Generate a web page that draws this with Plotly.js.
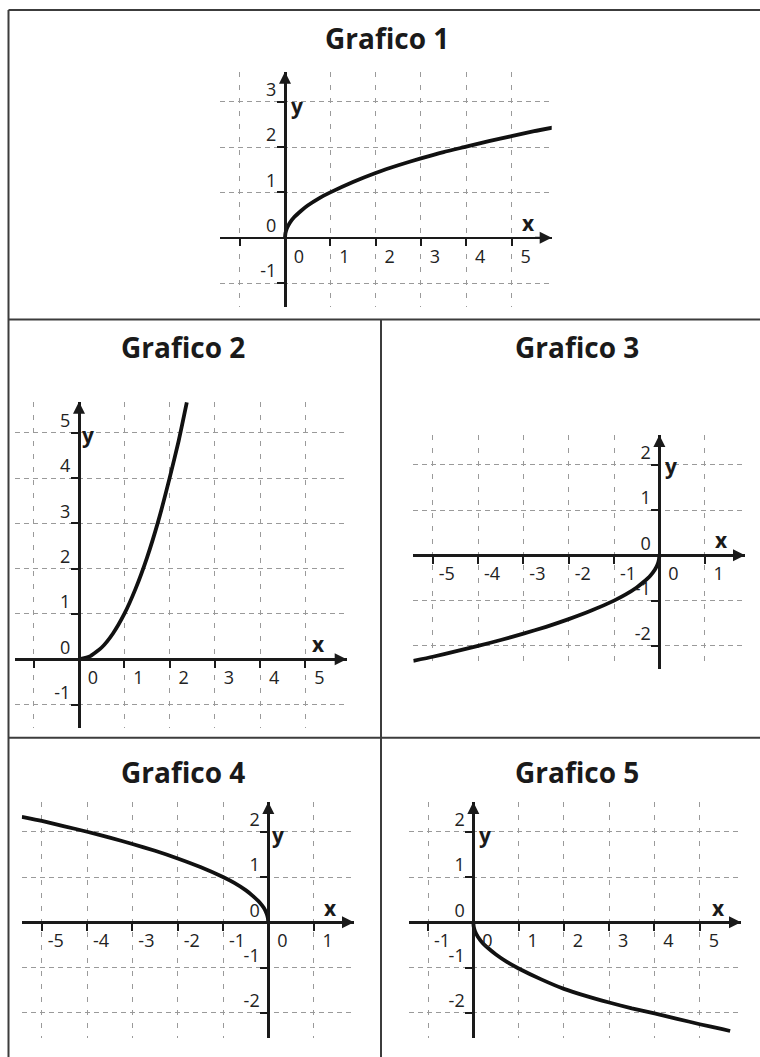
<!DOCTYPE html>
<html>
<head>
<meta charset="utf-8">
<script src="https://cdn.plot.ly/plotly-3.0.1.min.js"></script>
<style>
  html, body { margin: 0; padding: 0; background: #fff; }
  #chart { width: 760px; height: 1057px; }
</style>
</head>
<body>
<div id="chart"></div>
<script>
// punti delle curve
const x1 = [0, 0.01, 0.04, 0.1, 0.2, 0.35, 0.5, 0.75, 1, 1.5, 2, 2.5, 3, 3.5, 4, 4.5, 5, 5.5, 5.97];
const y1 = [0, 0.1, 0.2, 0.32, 0.45, 0.59, 0.71, 0.87, 1, 1.23, 1.43, 1.6, 1.75, 1.89, 2.01, 2.13, 2.24, 2.35, 2.44];

const x2 = [0, 0.25, 0.5, 0.75, 1, 1.25, 1.5, 1.75, 2, 2.2, 2.38];
const y2 = [0, 0.07, 0.26, 0.57, 1, 1.56, 2.24, 3.05, 4, 4.82, 5.67];

const x3 = [0, -0.01, -0.04, -0.1, -0.2, -0.35, -0.5, -0.75, -1, -1.5, -2, -2.5, -3, -3.5, -4, -4.5, -5, -5.43];
const y3 = [0, -0.1, -0.2, -0.32, -0.45, -0.59, -0.71, -0.87, -1, -1.22, -1.41, -1.58, -1.73, -1.87, -2, -2.12, -2.24, -2.33];

const x4 = [0, -0.01, -0.04, -0.1, -0.2, -0.35, -0.5, -0.75, -1, -1.5, -2, -2.5, -3, -3.5, -4, -4.5, -5, -5.44];
const y4 = [0, 0.1, 0.2, 0.32, 0.45, 0.59, 0.71, 0.87, 1, 1.22, 1.41, 1.58, 1.73, 1.87, 2, 2.12, 2.24, 2.33];

const x5 = [0, 0.01, 0.04, 0.1, 0.2, 0.35, 0.5, 0.75, 1, 1.5, 2, 2.5, 3, 3.5, 4, 4.5, 5, 5.5, 5.67];
const y5 = [0, -0.1, -0.2, -0.32, -0.45, -0.59, -0.71, -0.88, -1.02, -1.26, -1.47, -1.63, -1.77, -1.9, -2.01, -2.13, -2.25, -2.36, -2.4];

const titles = ['Grafico 1', 'Grafico 2', 'Grafico 3', 'Grafico 4', 'Grafico 5'];

// valori delle righe della griglia ed etichette
const gridX = [
  [-1, 0, 1, 2, 3, 4, 5],
  [-1, 0, 1, 2, 3, 4, 5],
  [-5, -4, -3, -2, -1, 0, 1],
  [-5, -4, -3, -2, -1, 0, 1],
  [-1, 0, 1, 2, 3, 4, 5]
];
const labX = [
  ['', '0', '1', '2', '3', '4', '5'],
  ['', '0', '1', '2', '3', '4', '5'],
  ['-5', '-4', '-3', '-2', '-1', '0', '1'],
  ['-5', '-4', '-3', '-2', '-1', '0', '1'],
  ['-1', '0', '1', '2', '3', '4', '5']
];
const gridY = [
  [-1, 0, 1, 2, 3],
  [-1, 0, 1, 2, 3, 4, 5],
  [-2, -1, 0, 1, 2],
  [-2, -1, 0, 1, 2],
  [-2, -1, 0, 1, 2]
];
const labY = [
  ['-1', '0', '1', '2', '3'],
  ['-1', '0', '1', '2', '3', '4', '5'],
  ['-2', '-1', '0', '1', '2'],
  ['-2', '-1', '0', '1', '2'],
  ['-2', '-1', '0', '1', '2']
];

const xs = [x1, x2, x3, x4, x5];
const ys = [y1, y2, y3, y4, y5];

const W = 760, H = 1057;
// riquadri in pixel delle aree dei grafici [sinistra, destra, alto, basso]
const boxes = [
  [220, 551.7, 71.7, 306.7],
  [15, 346.7, 401.7, 728],
  [413.3, 745, 435, 669.3],
  [21.7, 354, 802, 1038],
  [409.3, 741, 802, 1038]
];
const xRanges = [[-1.435, 5.887], [-1.413, 5.91], [-5.43, 1.89], [-5.444, 1.892], [-1.413, 5.91]];
const yRanges = [[-1.523, 3.664], [-1.517, 5.687], [-2.517, 2.656], [-2.554, 2.656], [-2.554, 2.656]];
const titlePos = [[387, 38], [183, 346.7], [576.7, 346.7], [183.3, 771.7], [576.7, 771.7]];
// posizione delle lettere x e y (in unità degli assi)
const xNamePos = [[5.38, 0.32], [5.29, 0.34], [1.38, 0.34], [1.38, 0.31], [5.41, 0.31]];
const yNamePos = [[0.27, 2.9], [0.2, 4.95], [0.26, 1.97], [0.21, 1.93], [0.25, 1.93]];

const ink = '#1a1a1a';
const traces = [];
const annotations = [];
const layout = {
  width: W, height: H,
  margin: {l: 0, r: 0, t: 0, b: 0},
  paper_bgcolor: '#fff', plot_bgcolor: 'rgba(0,0,0,0)',
  showlegend: false,
  font: {family: 'Open Sans', color: '#222'}
};

for (let i = 0; i < 5; i++) {
  const k = i === 0 ? '' : String(i + 1);
  const b = boxes[i];
  const xd = [b[0] / W, b[1] / W];
  const yd = [1 - b[3] / H, 1 - b[2] / H];
  const xr = xRanges[i], yr = yRanges[i];
  const xPos = yd[0] + (0 - yr[0]) / (yr[1] - yr[0]) * (yd[1] - yd[0]);
  const yPos = xd[0] + (0 - xr[0]) / (xr[1] - xr[0]) * (xd[1] - xd[0]);

  layout['xaxis' + k] = {
    domain: xd, range: xr, anchor: 'free', position: xPos,
    tickmode: 'array', tickvals: gridX[i], ticktext: labX[i],
    ticks: 'outside', ticklen: 7, tickwidth: 2, tickcolor: ink,
    showline: true, linewidth: 2.5, linecolor: ink,
    showgrid: true, gridcolor: '#9a9a9a', gridwidth: 1, griddash: '5px,8px',
    zeroline: false, fixedrange: true,
    tickfont: {family: 'Open Sans', size: 18, color: '#222'},
    ticklabelshift: 14, ticklabelstandoff: -5
  };
  layout['yaxis' + k] = {
    domain: yd, range: yr, anchor: 'free', position: yPos,
    tickmode: 'array', tickvals: gridY[i], ticktext: labY[i],
    ticks: 'outside', ticklen: 7, tickwidth: 2, tickcolor: ink,
    showline: true, linewidth: 2.5, linecolor: ink,
    showgrid: true, gridcolor: '#9a9a9a', gridwidth: 1, griddash: '5px,4px',
    zeroline: false, fixedrange: true,
    tickfont: {family: 'Open Sans', size: 18, color: '#222'},
    ticklabelshift: -12, ticklabelstandoff: -3
  };

  traces.push({
    x: xs[i], y: ys[i], xaxis: 'x' + k, yaxis: 'y' + k,
    type: 'scatter', mode: 'lines',
    line: {color: '#111', width: 3.8, shape: 'spline', smoothing: 0.5},
    hoverinfo: 'skip'
  });

  // frecce degli assi
  annotations.push({
    xref: 'x' + k, yref: 'y' + k, axref: 'x' + k, ayref: 'y' + k,
    x: xr[1], y: 0, ax: xr[1] - 0.4, ay: 0, text: '',
    showarrow: true, arrowhead: 2, arrowsize: 1.2, arrowwidth: 2, arrowcolor: ink
  });
  annotations.push({
    xref: 'x' + k, yref: 'y' + k, axref: 'x' + k, ayref: 'y' + k,
    x: 0, y: yr[1], ax: 0, ay: yr[1] - 0.4, text: '',
    showarrow: true, arrowhead: 2, arrowsize: 1.2, arrowwidth: 2, arrowcolor: ink
  });
  annotations.push({
    xref: 'x' + k, yref: 'y' + k, x: xNamePos[i][0], y: xNamePos[i][1],
    xanchor: 'center', yanchor: 'middle',
    text: 'x', showarrow: false,
    font: {family: 'Open Sans', size: 21, weight: 700, color: ink}
  });
  annotations.push({
    xref: 'x' + k, yref: 'y' + k, x: yNamePos[i][0], y: yNamePos[i][1],
    xanchor: 'center', yanchor: 'middle',
    text: 'y', showarrow: false,
    font: {family: 'Open Sans', size: 21, weight: 700, color: ink}
  });
  annotations.push({
    xref: 'paper', yref: 'paper',
    x: titlePos[i][0] / W, y: 1 - titlePos[i][1] / H,
    xanchor: 'center', yanchor: 'middle',
    text: titles[i], showarrow: false,
    font: {family: 'Open Sans', size: 28, weight: 700, color: ink}
  });
}

// bordi della tabella
function hline(y, x0, x1) {
  return {type: 'line', xref: 'paper', yref: 'paper', x0: x0 / W, x1: x1 / W, y0: 1 - y / H, y1: 1 - y / H,
          line: {color: '#3c3c3c', width: 2}};
}
function vline(x, y0, y1) {
  return {type: 'line', xref: 'paper', yref: 'paper', x0: x / W, x1: x / W, y0: 1 - y0 / H, y1: 1 - y1 / H,
          line: {color: '#3c3c3c', width: 2}};
}
layout.shapes = [
  hline(10, 8.5, 760),
  vline(8.5, 10, 1057),
  hline(319.5, 8.5, 760),
  hline(737.7, 8.5, 760),
  vline(381, 319.5, 1057)
];
layout.annotations = annotations;

Plotly.newPlot('chart', traces, layout, {displayModeBar: false, staticPlot: true});
</script>
</body>
</html>
